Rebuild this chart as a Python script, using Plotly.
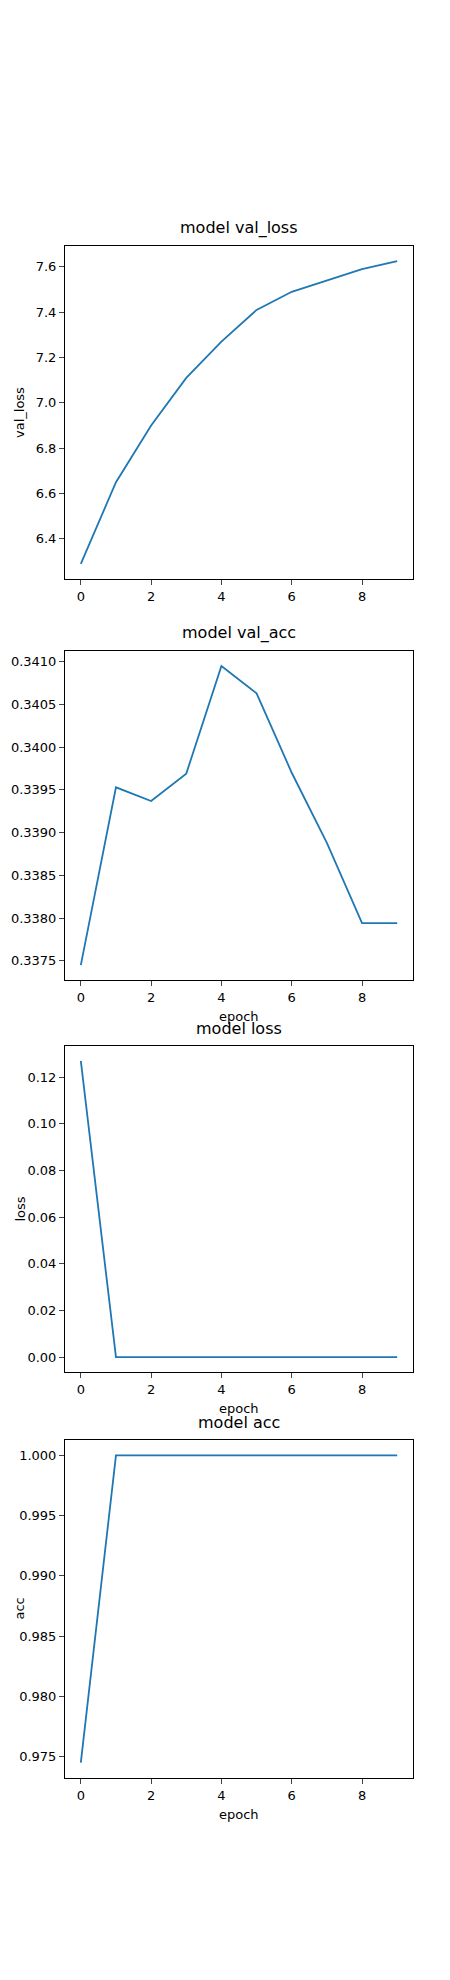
import plotly.graph_objects as go

epochs = list(range(10))
val_loss = [6.29, 6.65, 6.90, 7.11, 7.27, 7.41, 7.49, 7.54, 7.59, 7.625]
val_acc = [0.33745, 0.33953, 0.33937, 0.33969, 0.34095, 0.34063, 0.33970, 0.33888, 0.33794, 0.33794]
loss = [0.127, 1e-5, 1e-5, 1e-5, 1e-5, 1e-5, 1e-5, 1e-5, 1e-5, 1e-5]
acc = [0.9745, 1.0, 1.0, 1.0, 1.0, 1.0, 1.0, 1.0, 1.0, 1.0]

W, H = 450, 1980
panels = [
    ("model val_loss", val_loss, "val_loss", None, (238, 571), [6.223, 7.692], 0.2, ".1f"),
    ("model val_acc", val_acc, None, "epoch", (643, 972), [0.337275, 0.341125], 0.0005, ".4f"),
    ("model loss", loss, "loss", "epoch", (1038, 1364), [-0.00635, 0.13335], 0.02, ".2f"),
    ("model acc", acc, "acc", "epoch", (1432, 1770), [0.973225, 1.001275], 0.005, ".3f"),
]
font = dict(family="DejaVu Sans", color="black")
fig = go.Figure()
xd = [57 / W, 405 / W]
ann = []
for i, (title, ys, ylab, xlab, (top, bot), yr, dt, fmt) in enumerate(panels):
    n = "" if i == 0 else str(i + 1)
    fig.add_trace(go.Scatter(x=epochs, y=ys, mode="lines", line=dict(color="#1f77b4", width=1.8),
                             xaxis="x" + n, yaxis="y" + n, showlegend=False))
    ax = dict(domain=xd, range=[-0.45, 9.45], dtick=2, tick0=0, ticks="outside", ticklen=5,
              showline=True, mirror=True, linecolor="black", showgrid=False, zeroline=False,
              tickfont=dict(size=13, **font), anchor="y" + n)
    yd = [(H - bot) / H, (H - top) / H]
    ay = dict(domain=yd, range=yr, dtick=dt, tickformat=fmt, ticks="outside", ticklen=5,
              showline=True, mirror=True, linecolor="black", showgrid=False, zeroline=False,
              tickfont=dict(size=13, **font), anchor="x" + n)
    fig.update_layout(**{"xaxis" + n: ax, "yaxis" + n: ay})
    cx = (xd[0] + xd[1]) / 2
    ann.append(dict(text=title, x=cx, y=(H - top + 6) / H, xref="paper", yref="paper",
                    xanchor="center", yanchor="bottom", showarrow=False, font=dict(size=16, **font)))
    if xlab:
        ann.append(dict(text=xlab, x=cx, y=(H - bot - 27) / H, xref="paper", yref="paper",
                        xanchor="center", yanchor="top", showarrow=False, font=dict(size=13, **font)))
    if ylab:
        ann.append(dict(text=ylab, x=2 / W, y=(H - (top + bot) / 2) / H,
                        xref="paper", yref="paper", xanchor="left", yanchor="middle", textangle=-90,
                        showarrow=False, font=dict(size=13, **font)))
fig.update_layout(width=W, height=H, margin=dict(l=0, r=0, t=0, b=0), annotations=ann,
                  plot_bgcolor="white", paper_bgcolor="white")
fig.write_html("out.html")
